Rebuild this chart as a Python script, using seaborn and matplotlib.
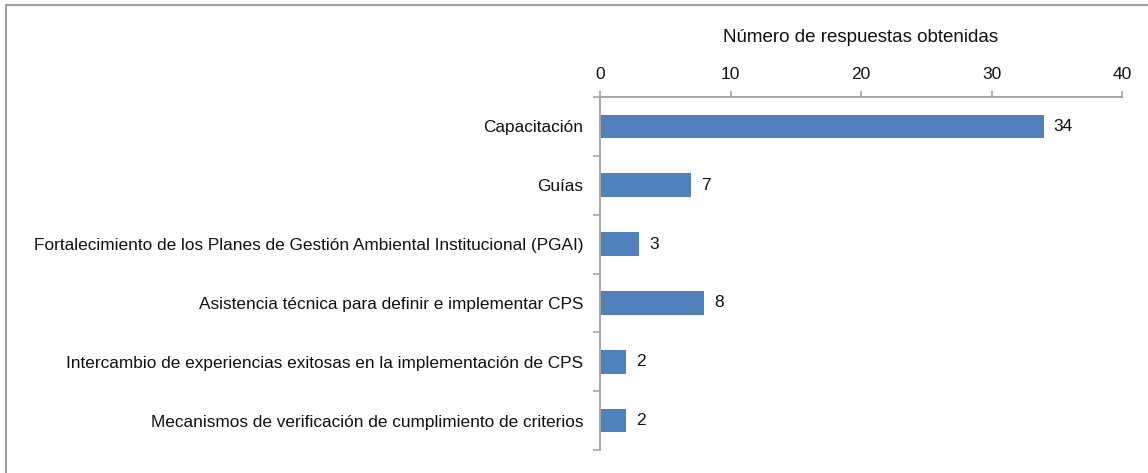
import numpy as np
import matplotlib
matplotlib.use('Agg')
import matplotlib.pyplot as plt
import seaborn as sns
from matplotlib.lines import Line2D

categorias = ['Capacitación',
              'Guías',
              'Fortalecimiento de los Planes de Gestión Ambiental Institucional (PGAI)',
              'Asistencia técnica para definir e implementar CPS',
              'Intercambio de experiencias exitosas en la implementación de CPS',
              'Mecanismos de verificación de cumplimiento de criterios']
respuestas = [34, 7, 3, 8, 2, 2]
ticks_x = [0, 10, 20, 30, 40]
titulo = 'Número de respuestas obtenidas'

sns.set_style('white')
plt.rcParams['font.family'] = ['Liberation Sans', 'DejaVu Sans']

gris = '#A6A6A6'
azul = '#4F81BD'

fig = plt.figure(figsize=(11.48, 4.73), dpi=100)
ax = fig.add_axes([600 / 1148, 1 - 450 / 473, 522 / 1148, 353 / 473])

sns.barplot(x=respuestas, y=categorias, orient='h', color=azul, width=0.4,
            saturation=1, ax=ax, edgecolor='none')

ax.set_xlim(0, 40)
ax.set_ylim(5.5, -0.5)
ax.set_xticks(ticks_x)
ax.xaxis.tick_top()
ax.xaxis.set_label_position('top')
ax.set_xlabel(titulo, fontsize=13.5, color='#111111', labelpad=18)
ax.set_ylabel('')

ax.set_yticks(np.arange(-0.5, 6, 1), minor=True)
ax.tick_params(axis='y', which='major', length=0, pad=12, labelsize=12.45, labelcolor='#111111')
ax.tick_params(axis='y', which='minor', length=5, width=1.2, color=gris, direction='out', left=True)
ax.tick_params(axis='x', which='major', length=4.5, width=1.2, color=gris, direction='out',
               pad=6, labelsize=12.5, labelcolor='#111111', top=True, bottom=False)

for lado in ['right', 'bottom']:
    ax.spines[lado].set_visible(False)
for lado in ['top', 'left']:
    ax.spines[lado].set_color(gris)
    ax.spines[lado].set_linewidth(1.4)

ax.bar_label(ax.containers[0], padding=7, fontsize=12.5, color='#111111')

# marco de la figura
fig.add_artist(Line2D([6 / 1148, 1], [1 - 5 / 473, 1 - 5 / 473], color='#A0A0A0', lw=1.5))
fig.add_artist(Line2D([6 / 1148, 6 / 1148], [0, 1 - 5 / 473], color='#A0A0A0', lw=1.5))

fig.savefig('out.png', dpi=100)
